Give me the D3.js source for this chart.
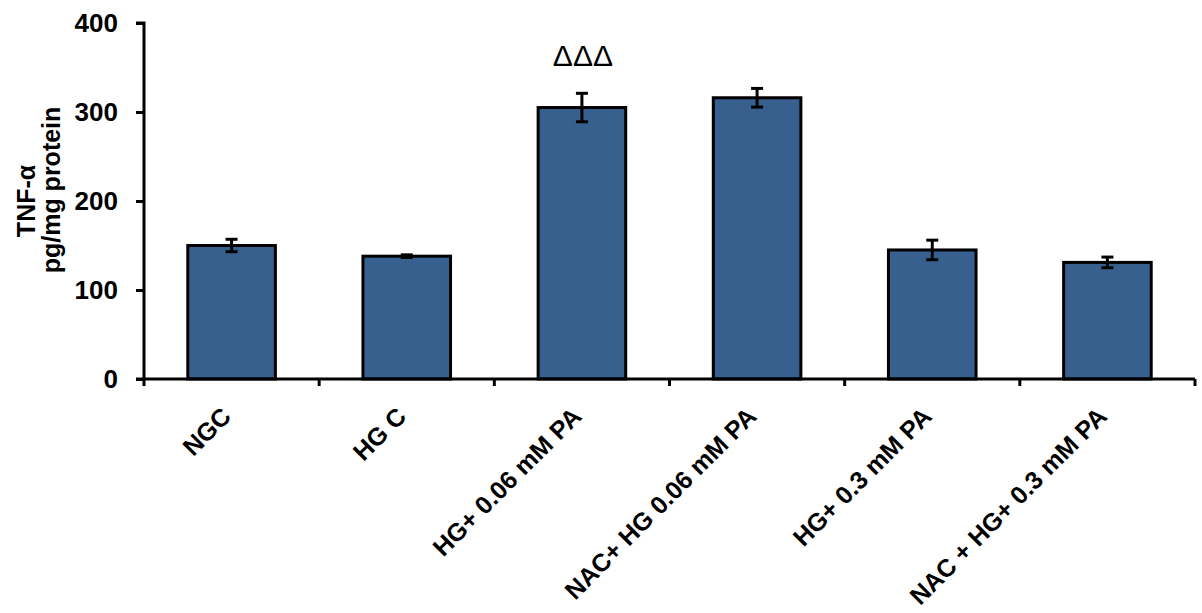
<!DOCTYPE html>
<html>
<head>
<meta charset="utf-8">
<script src="https://cdn.jsdelivr.net/npm/d3@7"></script>
<style>
  html, body { margin: 0; padding: 0; background: #fff; }
  svg { display: block; }
  text { font-family: "Liberation Sans", Arial, sans-serif; }
</style>
</head>
<body>
<svg id="chart" width="1202" height="613"></svg>
<script>
// TNF-α levels per treatment group (mean ± error)
const categories = ["NGC", "HG C", "HG+ 0.06 mM PA", "NAC+ HG 0.06 mM PA", "HG+ 0.3 mM PA", "NAC + HG+ 0.3 mM PA"];
const values = [150, 138, 305, 316, 145, 131];
const errors = [7, 1.5, 16, 10.5, 11, 6];
const yTicks = [0, 100, 200, 300, 400];
const annotations = ["", "", "ΔΔΔ", "", "", ""];

const svg = d3.select("#chart");
const margin = { left: 144, right: 7, top: 23, bottom: 234 };
const W = 1202, H = 613;

const x = d3.scaleBand().domain(categories)
  .range([margin.left, W - margin.right]).paddingInner(0.5).paddingOuter(0.25);
const y = d3.scaleLinear().domain([0, 400]).range([H - margin.bottom, margin.top]);

const barColor = "#37608f";

// bars
svg.append("g").selectAll("rect").data(categories).join("rect")
  .attr("x", d => x(d))
  .attr("width", x.bandwidth())
  .attr("y", (d, i) => y(values[i]))
  .attr("height", (d, i) => y(0) - y(values[i]))
  .attr("fill", barColor)
  .attr("stroke", "#000")
  .attr("stroke-width", 3);

// error bars
const eb = svg.append("g").attr("stroke", "#000").attr("stroke-width", 3);
categories.forEach((c, i) => {
  const cx = x(c) + x.bandwidth() / 2;
  const hi = y(values[i] + errors[i]), lo = y(values[i] - errors[i]);
  eb.append("line").attr("x1", cx).attr("x2", cx).attr("y1", hi).attr("y2", lo);
  eb.append("line").attr("x1", cx - 6).attr("x2", cx + 6).attr("y1", hi).attr("y2", hi);
  eb.append("line").attr("x1", cx - 6).attr("x2", cx + 6).attr("y1", lo).attr("y2", lo);
});

// significance markers
svg.append("g").selectAll("text").data(categories).join("text")
  .attr("x", d => x(d) + x.bandwidth() / 2 + 1)
  .attr("y", 66)
  .attr("text-anchor", "middle")
  .attr("font-size", 30)
  .attr("fill", "#000")
  .text((d, i) => annotations[i]);

// y axis
const yAxis = svg.append("g")
  .attr("transform", `translate(${margin.left},0)`)
  .call(d3.axisLeft(y).tickValues(yTicks).tickSize(8).tickPadding(18).tickFormat(d3.format("d")));
yAxis.select(".domain").attr("stroke-width", 3).attr("d", `M-8,${y(400)}H0V${y(0)}H-8`);
yAxis.selectAll(".tick line").attr("stroke-width", 3);
yAxis.selectAll(".tick text").attr("font-size", 26).attr("font-weight", "bold").attr("fill", "#000")
  .attr("font-family", "Liberation Sans, Arial, sans-serif");

// x axis line with boundary ticks
const xStep = x.step();
const xBounds = d3.range(categories.length + 1).map(i => margin.left + i * xStep);
const xa = svg.append("g").attr("stroke", "#000").attr("stroke-width", 3);
xa.append("line").attr("x1", margin.left - 1.5).attr("x2", xBounds[xBounds.length - 1])
  .attr("y1", y(0)).attr("y2", y(0));
xBounds.forEach(bx => {
  xa.append("line").attr("x1", bx).attr("x2", bx).attr("y1", y(0)).attr("y2", y(0) + 7);
});

// category labels, rotated
svg.append("g").selectAll("text").data(categories).join("text")
  .attr("transform", d => `translate(${x(d) + x.bandwidth() / 2 + 1},${y(0) + 39}) rotate(-45)`)
  .attr("text-anchor", "end")
  .attr("font-size", 25)
  .attr("font-weight", "bold")
  .attr("fill", "#000")
  .text(d => d);

// y axis title (two lines)
const yMid = (y(0) + y(400)) / 2;
const yTitle = svg.append("g")
  .attr("font-size", 25)
  .attr("font-weight", "bold")
  .attr("fill", "#000")
  .attr("text-anchor", "middle");
yTitle.append("text")
  .attr("transform", `translate(35,${yMid}) rotate(-90)`)
  .text("TNF-α");
yTitle.append("text")
  .attr("transform", `translate(60,${yMid - 11}) rotate(-90)`)
  .text("pg/mg protein");
</script>
</body>
</html>
